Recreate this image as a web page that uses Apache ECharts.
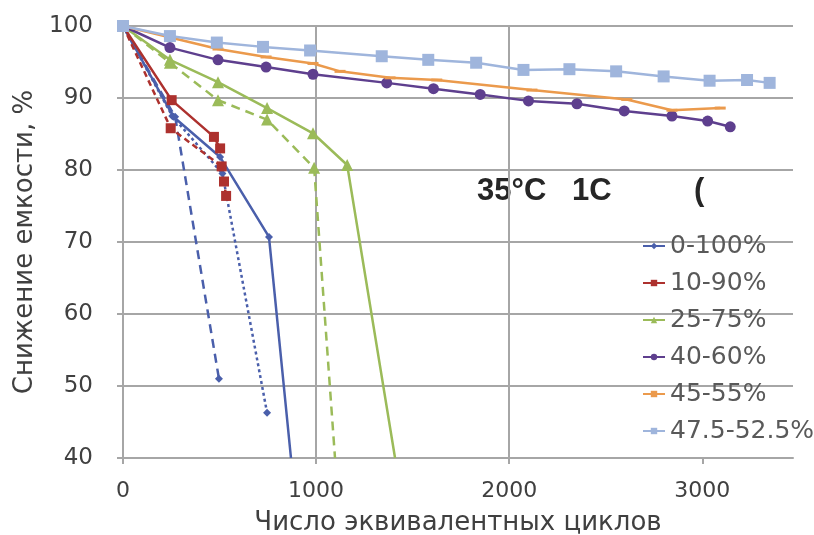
<!DOCTYPE html>
<html>
<head>
<meta charset="utf-8">
<script src="https://cdn.jsdelivr.net/npm/echarts@6/dist/echarts.min.js"></script>
<style>
html,body{margin:0;padding:0;background:#fff;}
#chart{width:814px;height:535px;}
</style>
</head>
<body>
<div id="chart"></div>
<script>
// Tick values
const xTicks = [0, 1000, 2000, 3000];
const yTicks = [40, 50, 60, 70, 80, 90, 100];
const legendNames = ['0-100%', '10-90%', '25-75%', '40-60%', '45-55%', '47.5-52.5%'];

// Data: [equivalent cycles, capacity %]
const soc0_100_solid  = [[0,100],[261,87.4],[503,81.8],[756,70.7],[870,40]];
const soc0_100_dashed = [[0,100],[270,87.4],[497,51.0]];
const soc0_100_dotted = [[0,100],[255,87.5],[515,79.5],[746,46.3]];
const soc10_90_solid  = [[0,100],[252,89.7],[471,84.6],[503,83.0]];
const soc10_90_dashed = [[0,100],[247,85.8],[511,80.5],[523,78.4],[534,76.4]];
const soc25_75_solid  = [[0,100],[243,95.3],[492,92.2],[746,88.6],[984,85.1],[1161,80.7],[1409,40]];
const soc25_75_dashed = [[0,100],[243,94.9],[492,89.7],[746,87.0],[990,80.3],[1098,40]];
const soc40_60        = [[0,100],[243,97.0],[492,95.3],[741,94.3],[984,93.3],[1366,92.1],[1608,91.3],[1850,90.5],[2100,89.6],[2351,89.2],[2596,88.2],[2843,87.5],[3028,86.8],[3145,86.0]];
const soc45_55        = [[0,100],[492,96.8],[741,95.7],[984,94.8],[1124,93.7],[1383,92.8],[1625,92.5],[2118,91.1],[2609,89.8],[2843,88.3],[3093,88.6]];
const soc47_52        = [[0,100],[243,98.6],[486,97.7],[725,97.1],[969,96.6],[1340,95.8],[1581,95.3],[1829,94.9],[2074,93.9],[2312,94.0],[2554,93.7],[2800,93.0],[3038,92.4],[3232,92.5],[3349,92.1]];

const C = {
  blue: '#4a5fab', red: '#ad312e', green: '#9bbb59',
  purple: '#5e3f8e', orange: '#eb9a4c', light: '#9fb5dc'
};
const Y_MIN = 40;

function toData(arr) {
  // points lying on the lower axis limit are where the curve leaves the plot: no marker there
  return arr.map(function (p) {
    return p[1] <= Y_MIN ? { value: p, symbol: 'none' } : { value: p };
  });
}

function mk(name, arr, color, symbol, size, type) {
  return {
    name: name, type: 'line', data: toData(arr),
    symbol: symbol,
    symbolSize: size,
    showAllSymbol: true,
    clip: true,
    lineStyle: { color: color, width: 2.5, type: type || 'solid' },
    itemStyle: { color: color },
    emphasis: { disabled: true },
    animation: false
  };
}

const series = [
  mk('0-100%', soc0_100_solid, C.blue, 'diamond', 8),
  mk('0-100% b', soc0_100_dashed, C.blue, 'diamond', 8, [9, 6]),
  mk('0-100% c', soc0_100_dotted, C.blue, 'diamond', 8, [3, 3]),
  mk('10-90%', soc10_90_solid, C.red, 'rect', 10),
  mk('10-90% b', soc10_90_dashed, C.red, 'rect', 10, [6, 4]),
  mk('25-75%', soc25_75_solid, C.green, 'triangle', 12),
  mk('25-75% b', soc25_75_dashed, C.green, 'triangle', 12, [9, 6]),
  mk('40-60%', soc40_60, C.purple, 'circle', 11),
  mk('45-55%', soc45_55, C.orange, 'rect', [11, 3]),
  mk('47.5-52.5%', soc47_52, C.light, 'rect', 12)
];

const chart = echarts.init(document.getElementById('chart'), null, { renderer: 'canvas' });
const axisGray = '#a6a6a6';
chart.setOption({
  animation: false,
  backgroundColor: '#ffffff',
  grid: { left: 123, right: 21, top: 26, bottom: 77, containLabel: false, outerBoundsMode: 'none' },
  xAxis: {
    type: 'value', min: 0, max: 3470, interval: 1000,
    name: 'Число эквивалентных циклов',
    nameLocation: 'middle', nameGap: 52,
    nameTextStyle: { fontFamily: 'DejaVu Sans', fontSize: 26, color: '#404040' },
    axisLine: { show: true, onZero: false, lineStyle: { color: axisGray, width: 2 } },
    axisTick: { show: true, inside: false, length: 6, customValues: xTicks, lineStyle: { color: axisGray, width: 2 } },
    axisLabel: {
      showMaxLabel: false, margin: 22,
      formatter: function (v) { return String(v); },
      fontFamily: 'DejaVu Sans', fontSize: 22, color: '#404040'
    },
    splitLine: { show: true, showMinLine: false, showMaxLine: false, lineStyle: { color: axisGray, width: 2 } }
  },
  yAxis: {
    type: 'value', min: 40, max: 100, interval: 10,
    name: 'Снижение емкости, %',
    nameLocation: 'middle', nameGap: 82, nameRotate: 90,
    nameTextStyle: { fontFamily: 'DejaVu Sans', fontSize: 26, color: '#404040' },
    axisLine: { show: true, lineStyle: { color: axisGray, width: 2 } },
    axisTick: { show: true, inside: false, length: 6, lineStyle: { color: axisGray, width: 2 } },
    axisLabel: {
      margin: 30, formatter: function (v) { return String(v); },
      fontFamily: 'DejaVu Sans', fontSize: 23, color: '#404040'
    },
    splitLine: { show: true, lineStyle: { color: axisGray, width: 2 } }
  },
  legend: {
    data: legendNames,
    orient: 'vertical', left: 637, top: 228,
    itemWidth: 22, itemHeight: 8, itemGap: 11,
    textStyle: { fontFamily: 'DejaVu Sans', fontSize: 25, color: '#595959', lineHeight: 26 },
    selectedMode: false
  },
  graphic: [
    { type: 'text', left: 477, top: 176, silent: true,
      style: { text: '35°C   1C', font: 'bold 31px "Liberation Sans", Arial, sans-serif', fill: '#262626' } },
    { type: 'text', left: 694, top: 176, silent: true,
      style: { text: '(', font: 'bold 31px "Liberation Sans", Arial, sans-serif', fill: '#262626' } }
  ],
  series: series
});
</script>
</body>
</html>
